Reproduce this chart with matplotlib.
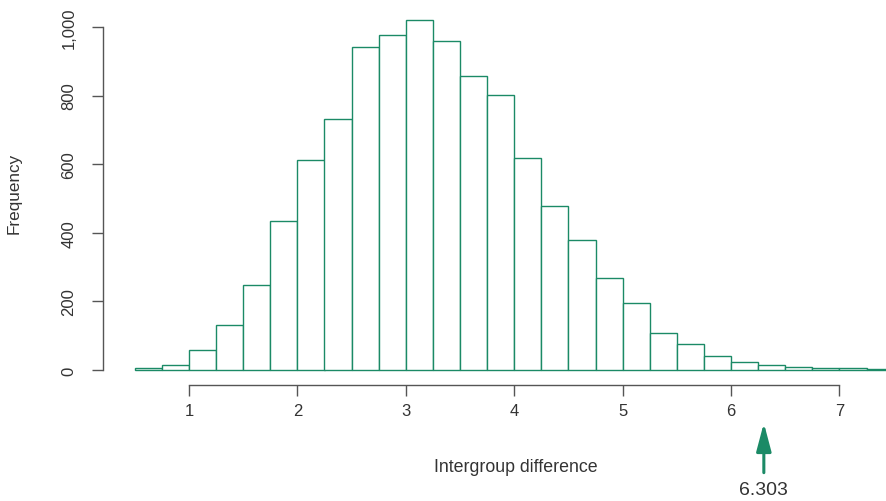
import numpy as np
import matplotlib
matplotlib.use("Agg")
import matplotlib.pyplot as plt

plt.rcParams['font.family'] = ['Liberation Sans', 'DejaVu Sans']

# permutation histogram of the intergroup difference
bin_edges = np.arange(0.5, 7.5 + 0.001, 0.25)
counts = [5, 14, 58, 131, 248, 434, 612, 732, 942, 977, 1020, 959, 857, 802,
          618, 478, 379, 268, 195, 108, 76, 41, 23, 15, 9, 6, 5, 2]
observed = 6.303

x_ticks = [1, 2, 3, 4, 5, 6, 7]
y_ticks = [0, 200, 400, 600, 800, 1000]
y_ticklabels = ["0", "200", "400", "600", "800", "1,000"]

GREEN = "#1b8a66"
AXIS = "#555555"
TEXT = "#333333"

W, H = 886, 502
fig = plt.figure(figsize=(W / 100, H / 100), dpi=100)
ax = fig.add_axes([0, 0, 1, 1])

ax.bar(bin_edges[:-1], counts, width=0.25, align="edge",
       color="white", edgecolor=GREEN, linewidth=1.0)

# pixel layout: x=1 at 189px, 108.4px per unit; y=0 at 371px, 0.343px per count
ax.set_xlim(1 - 189 / 108.4, 1 + (W - 189) / 108.4)
ax.set_ylim(-(H - 371) / 0.343, 371 / 0.343)

for s in ["top", "right"]:
    ax.spines[s].set_visible(False)
ax.spines["left"].set_position(("data", 1 + (103 - 189) / 108.4))
ax.spines["left"].set_bounds(0, 1000)
ax.spines["bottom"].set_position(("data", -(386 - 371) / 0.343))
ax.spines["bottom"].set_bounds(1, 7)
for s in ["left", "bottom"]:
    ax.spines[s].set_color(AXIS)
    ax.spines[s].set_linewidth(1.0)

ax.set_xticks(x_ticks)
ax.set_xticklabels([str(t) for t in x_ticks])
ax.set_yticks(y_ticks)
ax.set_yticklabels(y_ticklabels, rotation=90, va="center")
ax.tick_params(axis="both", direction="out", length=8, width=1.0,
               color=AXIS, labelcolor=TEXT, labelsize=12)
ax.tick_params(axis="x", pad=5)
ax.tick_params(axis="y", pad=11)

fig.text(14 / W, 1 - 193 / H, "Frequency", rotation=90, ha="center",
         va="center", fontsize=12.3, color=TEXT)
fig.text(516 / W, 1 - 468 / H, "Intergroup difference", ha="center",
         va="center", fontsize=12.8, color=TEXT)

ax.annotate(f"{observed:.3f}",
            xy=(observed, 1 - 424 / H), xycoords=("data", "figure fraction"),
            xytext=(observed, 1 - 482 / H), textcoords=("data", "figure fraction"),
            ha="center", va="top", fontsize=14, color=TEXT,
            arrowprops=dict(arrowstyle="-|>,head_length=17,head_width=4.5",
                            mutation_scale=1, color=GREEN, lw=2.2,
                            shrinkA=4, shrinkB=0))

fig.savefig("out.png", dpi=100)
